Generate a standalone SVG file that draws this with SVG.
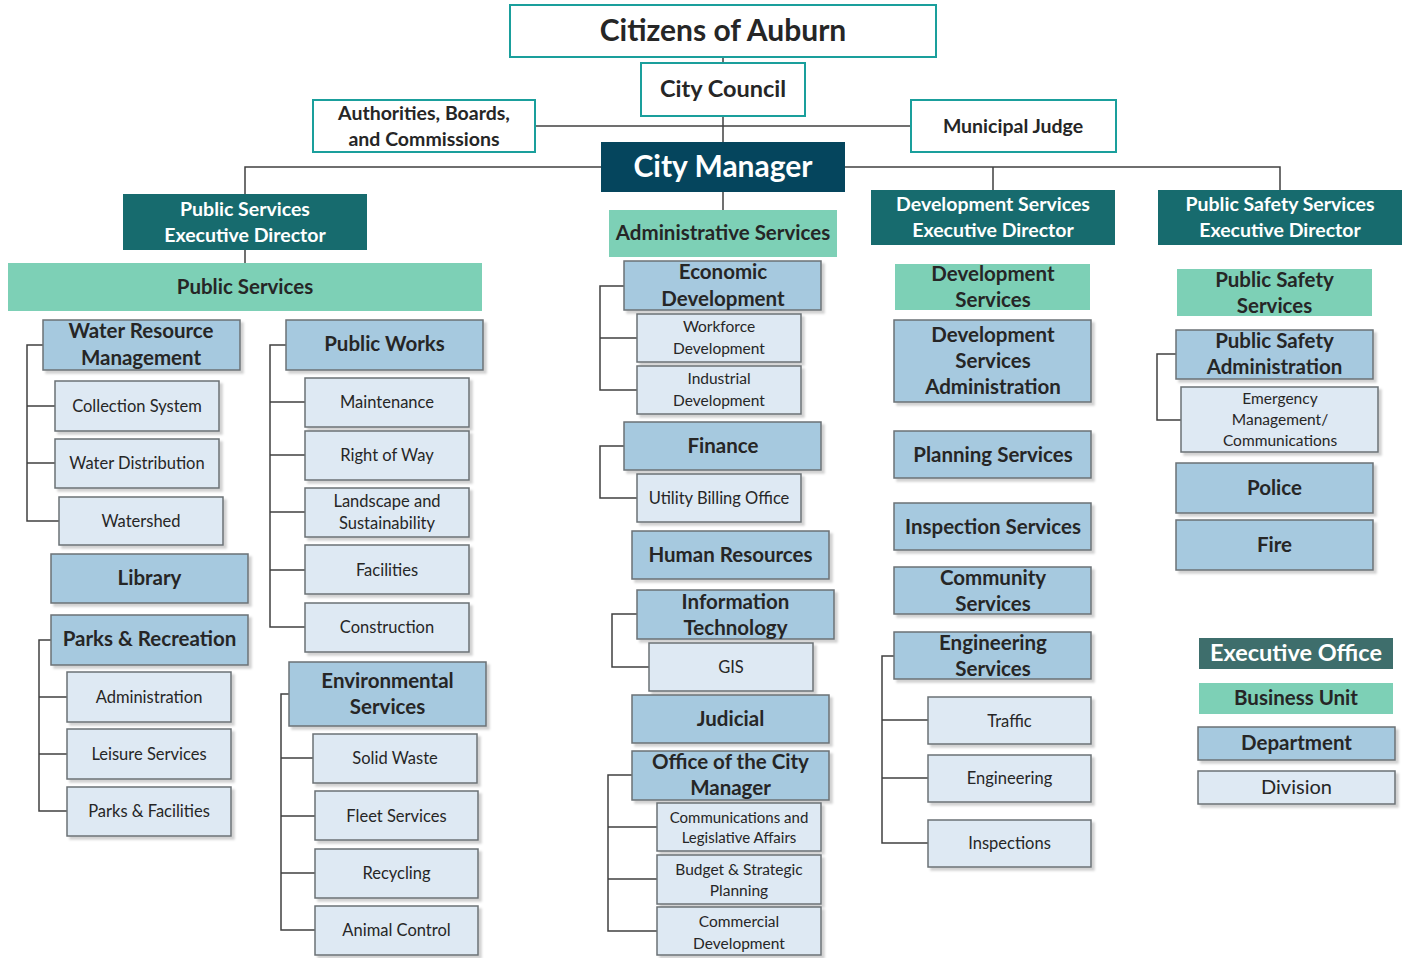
<svg xmlns="http://www.w3.org/2000/svg" width="1407" height="958" viewBox="0 0 1407 958">
<defs>
<filter id="sh" x="-5%" y="-5%" width="115%" height="125%">
<feDropShadow dx="3" dy="3" stdDeviation="1.2" flood-color="#000" flood-opacity="0.18"/>
</filter>
<style>
text{font-family:Lato,"Open Sans","Liberation Sans",sans-serif;text-anchor:middle;fill:#262626}
.top{fill:#fff;stroke:#1a9f9c;stroke-width:2}
.cm{fill:#05455d}
.ex{fill:#176b6e}
.exl{fill:#3e6e6c}
.bu{fill:#7dd0b6}
.dept{fill:#a6c9df;stroke:#6b7175;stroke-width:1.5;filter:url(#sh)}
.div{fill:#dee9f3;stroke:#6b7175;stroke-width:1.5;filter:url(#sh)}
.w{fill:#fff}
.b{font-weight:bold}
.t28{font-size:30px}
.t22{font-size:23.5px}
.t19{font-size:20.5px}
.t18{font-size:19.5px}
.t16{font-size:16.5px}
.t15{font-size:15.5px}
.t14{font-size:15px}
.tl{font-size:20px}
#connectors path,#connectors line{stroke:#404040;stroke-width:1.5;fill:none}
</style>
</defs>
<rect width="1407" height="958" fill="#fff"/>
<g id="connectors">
<line x1="723" y1="57" x2="723" y2="63"/>
<line x1="723" y1="116" x2="723" y2="142"/>
<line x1="535" y1="126" x2="911" y2="126"/>
<path d="M601 167H245V195"/>
<path d="M845 167H1280V190M993 167V190"/>
<line x1="723" y1="192" x2="723" y2="210"/>
<line x1="245" y1="250" x2="245" y2="263"/>
<path d="M43 345H27V521H59M27 406H55M27 463H55"/>
<path d="M51 640H39V811H67M39 697H67M39 754H67"/>
<path d="M286 345H270V627H305M270 402H305M270 455H305M270 512H305M270 570H305"/>
<path d="M289 694H281V930H315M281 758H313M281 816H315M281 873H315"/>
<path d="M624 286H600V390H637M600 338H637"/>
<path d="M624 446H600V498H637"/>
<path d="M637 614H612V667H649"/>
<path d="M632 775H608V931H657M608 827H657M608 879H657"/>
<path d="M894 656H882V843H928M882 720H928M882 778H928"/>
<path d="M1176 354H1157V420H1181"/>
</g>
<g id="citizens"><rect class="top" x="510" y="5" width="426" height="52"/><text class="b t28" x="723" y="41">Citizens of Auburn</text></g>
<g id="council"><rect class="top" x="641" y="63" width="164" height="53"/><text class="b t22" x="723" y="97">City Council</text></g>
<g id="authorities"><rect class="top" x="313" y="100" width="222" height="52"/><text class="b t18" x="424" y="120">Authorities, Boards,</text><text class="b t18" x="424" y="146">and Commissions</text></g>
<g id="judge"><rect class="top" x="911" y="100" width="205" height="52"/><text class="b t18" x="1013" y="133">Municipal Judge</text></g>
<g id="manager"><rect class="cm" x="601" y="142" width="244" height="50"/><text class="b t28 w" x="723" y="177">City Manager</text></g>
<g id="ps-exec"><rect class="ex" x="123" y="194" width="244" height="56"/><text class="b t18 w" x="245" y="216">Public Services</text><text class="b t18 w" x="245" y="242">Executive Director</text></g>
<g id="ps-bu"><rect class="bu" x="8" y="263" width="474" height="48"/><text class="b t19" x="245" y="294">Public Services</text></g>
<g id="water"><rect class="dept" x="43" y="320" width="197" height="50"/><text class="b t19" x="141" y="338">Water Resource</text><text class="b t19" x="141" y="365">Management</text></g>
<g id="collection"><rect class="div" x="55" y="381" width="164" height="50"/><text class="t16" x="137" y="412">Collection System</text></g>
<g id="waterdist"><rect class="div" x="55" y="439" width="164" height="49"/><text class="t16" x="137" y="469">Water Distribution</text></g>
<g id="watershed"><rect class="div" x="59" y="497" width="164" height="48"/><text class="t16" x="141" y="527">Watershed</text></g>
<g id="library"><rect class="dept" x="51" y="554" width="197" height="49"/><text class="b t19" x="149.5" y="585">Library</text></g>
<g id="parks"><rect class="dept" x="51" y="615" width="197" height="50"/><text class="b t19" x="149.5" y="646">Parks &amp; Recreation</text></g>
<g id="admin-pr"><rect class="div" x="67" y="672" width="164" height="50"/><text class="t16" x="149" y="703">Administration</text></g>
<g id="leisure"><rect class="div" x="67" y="729" width="164" height="50"/><text class="t16" x="149" y="760">Leisure Services</text></g>
<g id="parksfac"><rect class="div" x="67" y="787" width="164" height="49"/><text class="t16" x="149" y="817">Parks &amp; Facilities</text></g>
<g id="publicworks"><rect class="dept" x="286" y="320" width="197" height="50"/><text class="b t19" x="384.5" y="351">Public Works</text></g>
<g id="maintenance"><rect class="div" x="305" y="378" width="164" height="49"/><text class="t16" x="387" y="408">Maintenance</text></g>
<g id="rightofway"><rect class="div" x="305" y="431" width="164" height="49"/><text class="t16" x="387" y="461">Right of Way</text></g>
<g id="landscape"><rect class="div" x="305" y="488" width="164" height="49"/><text class="t16" x="387" y="507">Landscape and</text><text class="t16" x="387" y="529">Sustainability</text></g>
<g id="facilities"><rect class="div" x="305" y="545" width="164" height="49"/><text class="t16" x="387" y="576">Facilities</text></g>
<g id="construction"><rect class="div" x="305" y="603" width="164" height="49"/><text class="t16" x="387" y="633">Construction</text></g>
<g id="environmental"><rect class="dept" x="289" y="662" width="197" height="64"/><text class="b t19" x="387.5" y="688">Environmental</text><text class="b t19" x="387.5" y="714">Services</text></g>
<g id="solidwaste"><rect class="div" x="313" y="734" width="164" height="49"/><text class="t16" x="395" y="764">Solid Waste</text></g>
<g id="fleet"><rect class="div" x="315" y="791" width="163" height="49"/><text class="t16" x="396.5" y="822">Fleet Services</text></g>
<g id="recycling"><rect class="div" x="315" y="849" width="163" height="49"/><text class="t16" x="396.5" y="879">Recycling</text></g>
<g id="animal"><rect class="div" x="315" y="906" width="163" height="49"/><text class="t16" x="396.5" y="936">Animal Control</text></g>
<g id="admin-bu"><rect class="bu" x="609" y="210" width="228" height="47"/><text class="b t19" x="723" y="240">Administrative Services</text></g>
<g id="econ"><rect class="dept" x="624" y="261" width="197" height="49"/><text class="b t19" x="723" y="279">Economic</text><text class="b t19" x="723" y="306">Development</text></g>
<g id="workforce"><rect class="div" x="637" y="314" width="164" height="48"/><text class="t15" x="719" y="332">Workforce</text><text class="t15" x="719" y="354">Development</text></g>
<g id="industrial"><rect class="div" x="637" y="366" width="164" height="48"/><text class="t15" x="719" y="384">Industrial</text><text class="t15" x="719" y="406">Development</text></g>
<g id="finance"><rect class="dept" x="624" y="422" width="197" height="48"/><text class="b t19" x="723" y="453">Finance</text></g>
<g id="utility"><rect class="div" x="637" y="474" width="164" height="48"/><text class="t16" x="719" y="504">Utility Billing Office</text></g>
<g id="hr"><rect class="dept" x="632" y="531" width="197" height="48"/><text class="b t19" x="730.5" y="562">Human Resources</text></g>
<g id="it"><rect class="dept" x="637" y="590" width="197" height="49"/><text class="b t19" x="735.5" y="609">Information</text><text class="b t19" x="735.5" y="635">Technology</text></g>
<g id="gis"><rect class="div" x="649" y="643" width="164" height="48"/><text class="t16" x="731" y="673">GIS</text></g>
<g id="judicial"><rect class="dept" x="632" y="695" width="197" height="48"/><text class="b t19" x="730.5" y="726">Judicial</text></g>
<g id="ocm"><rect class="dept" x="632" y="751" width="197" height="49"/><text class="b t19" x="730.5" y="769">Office of the City</text><text class="b t19" x="730.5" y="795">Manager</text></g>
<g id="comms"><rect class="div" x="657" y="803" width="164" height="48"/><text class="t14" x="739" y="823">Communications and</text><text class="t14" x="739" y="843">Legislative Affairs</text></g>
<g id="budget"><rect class="div" x="657" y="855" width="164" height="49"/><text class="t15" x="739" y="875">Budget &amp; Strategic</text><text class="t15" x="739" y="896">Planning</text></g>
<g id="commercial"><rect class="div" x="657" y="907" width="164" height="48"/><text class="t15" x="739" y="927">Commercial</text><text class="t15" x="739" y="949">Development</text></g>
<g id="dev-exec"><rect class="ex" x="871" y="190" width="244" height="55"/><text class="b t18 w" x="993" y="211">Development Services</text><text class="b t18 w" x="993" y="237">Executive Director</text></g>
<g id="pss-exec"><rect class="ex" x="1158" y="190" width="244" height="55"/><text class="b t18 w" x="1280" y="211">Public Safety Services</text><text class="b t18 w" x="1280" y="237">Executive Director</text></g>
<g id="dev-bu"><rect class="bu" x="895" y="264" width="195" height="46"/><text class="b t19" x="993" y="281">Development</text><text class="b t19" x="993" y="307">Services</text></g>
<g id="dev-admin"><rect class="dept" x="894" y="320" width="197" height="82"/><text class="b t19" x="993" y="342">Development</text><text class="b t19" x="993" y="368">Services</text><text class="b t19" x="993" y="394">Administration</text></g>
<g id="planning"><rect class="dept" x="894" y="431" width="197" height="47"/><text class="b t19" x="993" y="462">Planning Services</text></g>
<g id="inspection-svc"><rect class="dept" x="894" y="503" width="197" height="47"/><text class="b t19" x="993" y="534">Inspection Services</text></g>
<g id="community"><rect class="dept" x="894" y="567" width="197" height="47"/><text class="b t19" x="993" y="585">Community</text><text class="b t19" x="993" y="611">Services</text></g>
<g id="engineering-svc"><rect class="dept" x="894" y="632" width="197" height="47"/><text class="b t19" x="993" y="650">Engineering</text><text class="b t19" x="993" y="676">Services</text></g>
<g id="traffic"><rect class="div" x="928" y="697" width="163" height="47"/><text class="t16" x="1009.5" y="727">Traffic</text></g>
<g id="engineering"><rect class="div" x="928" y="755" width="163" height="47"/><text class="t16" x="1009.5" y="784">Engineering</text></g>
<g id="inspections"><rect class="div" x="928" y="820" width="163" height="47"/><text class="t16" x="1009.5" y="849">Inspections</text></g>
<g id="pss-bu"><rect class="bu" x="1177" y="269" width="195" height="47"/><text class="b t19" x="1274.5" y="287">Public Safety</text><text class="b t19" x="1274.5" y="313">Services</text></g>
<g id="ps-admin"><rect class="dept" x="1176" y="330" width="197" height="49"/><text class="b t19" x="1274.5" y="348">Public Safety</text><text class="b t19" x="1274.5" y="374">Administration</text></g>
<g id="emergency"><rect class="div" x="1181" y="387" width="197" height="65"/><text class="t15" x="1280" y="404">Emergency</text><text class="t15" x="1280" y="425">Management/</text><text class="t15" x="1280" y="446">Communications</text></g>
<g id="police"><rect class="dept" x="1176" y="463" width="197" height="50"/><text class="b t19" x="1274.5" y="495">Police</text></g>
<g id="fire"><rect class="dept" x="1176" y="520" width="197" height="50"/><text class="b t19" x="1274.5" y="552">Fire</text></g>
<g id="legend-exec"><rect class="exl" x="1199" y="638" width="194" height="31"/><text class="b t22 w" x="1296" y="661">Executive Office</text></g>
<g id="legend-bu"><rect class="bu" x="1199" y="683" width="194" height="31"/><text class="b t19" x="1296" y="705">Business Unit</text></g>
<g id="legend-dept"><rect class="dept" x="1198" y="727" width="197" height="33"/><text class="b t19" x="1296.5" y="750">Department</text></g>
<g id="legend-div"><rect class="div" x="1198" y="771" width="197" height="33"/><text class="tl" x="1296.5" y="794">Division</text></g>
</svg>
